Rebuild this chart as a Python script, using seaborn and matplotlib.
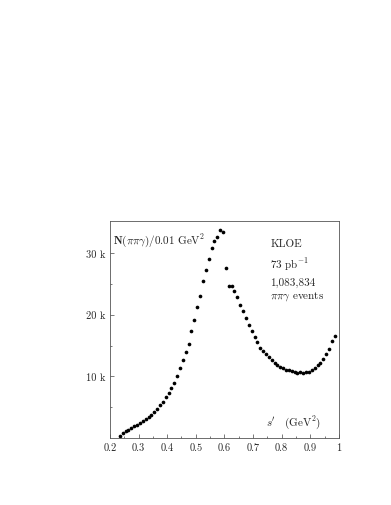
import numpy as np
import pandas as pd
import matplotlib
matplotlib.use('Agg')
import matplotlib.pyplot as plt
import seaborn as sns

# bin centres s' (GeV^2) and counts per 0.01 GeV^2 (in thousands)
s_prime = [0.235, 0.245, 0.255, 0.265, 0.275, 0.285, 0.295, 0.305, 0.315, 0.325,
           0.335, 0.345, 0.355, 0.365, 0.375, 0.385, 0.395, 0.405, 0.415, 0.425,
           0.435, 0.445, 0.455, 0.465, 0.475, 0.485, 0.495, 0.505, 0.515, 0.525,
           0.535, 0.545, 0.555, 0.565, 0.575, 0.585, 0.595, 0.605, 0.615, 0.625,
           0.635, 0.645, 0.655, 0.665, 0.675, 0.685, 0.695, 0.705, 0.715, 0.725,
           0.735, 0.745, 0.755, 0.765, 0.775, 0.785, 0.795, 0.805, 0.815, 0.825,
           0.835, 0.845, 0.855, 0.865, 0.875, 0.885, 0.895, 0.905, 0.915, 0.925,
           0.935, 0.945, 0.955, 0.965, 0.975, 0.985]
counts_k = [0.38, 0.75, 1.08, 1.34, 1.61, 1.88, 2.15, 2.42, 2.69, 3.06,
            3.39, 3.76, 4.14, 4.73, 5.38, 5.91, 6.61, 7.26, 8.06, 8.98,
            10.1, 11.3, 12.7, 14.0, 15.3, 17.3, 19.2, 21.2, 23.1, 25.5,
            27.2, 29.0, 30.8, 32.0, 32.6, 33.8, 33.5, 27.5, 24.6, 24.7,
            23.8, 22.8, 21.5, 20.6, 19.4, 18.3, 17.4, 16.4, 15.5, 14.6,
            14.1, 13.6, 13.2, 12.6, 12.1, 11.8, 11.6, 11.3, 11.1, 11.0,
            10.9, 10.75, 10.6, 10.65, 10.6, 10.7, 10.7, 11.0, 11.3, 11.8,
            12.2, 12.8, 13.7, 14.5, 15.7, 16.5]

x_ticks = [0.2, 0.3, 0.4, 0.5, 0.6, 0.7, 0.8, 0.9, 1.0]
x_tick_labels = ['0.2', '0.3', '0.4', '0.5', '0.6', '0.7', '0.8', '0.9', '1']
y_ticks = [10, 20, 30]
y_tick_labels = ['10 k', '20 k', '30 k']

df = pd.DataFrame({'s': s_prime, 'n': counts_k})

sns.set_style('ticks')
plt.rcParams['font.family'] = ['cmr10', 'DejaVu Serif']
plt.rcParams['mathtext.fontset'] = 'cm'
plt.rcParams['axes.formatter.use_mathtext'] = True

fig = plt.figure(figsize=(3.91, 5.06), dpi=100)
ax = fig.add_axes([0.281, 0.1324, 0.586, 0.4288])

sns.scatterplot(data=df, x='s', y='n', ax=ax, color='black', s=7,
                edgecolor='black', linewidth=0, legend=False)

ax.set_xlim(0.2, 1.0)
ax.set_ylim(0, 35.2)
ax.set_xticks(x_ticks)
ax.set_xticklabels(x_tick_labels)
ax.set_yticks(y_ticks)
ax.set_yticklabels(y_tick_labels)
ax.set_yticks([5, 15, 25], minor=True)
ax.set_xticks(np.arange(0.25, 1.0, 0.1), minor=True)
ax.tick_params(axis='both', which='both', direction='in', labelsize=7.5,
               color='#444444', width=0.5)
ax.tick_params(which='major', length=3)
ax.tick_params(which='minor', length=1.5)
ax.set_xlabel('')
ax.set_ylabel('')
for sp in ax.spines.values():
    sp.set_visible(True)
    sp.set_color('#555555')
    sp.set_linewidth(0.6)

fs = 8
ax.text(0.015, 0.955, r'$\mathbf{N}(\pi\pi\gamma)/0.01\ \mathrm{GeV}^2$',
        transform=ax.transAxes, fontsize=fs, va='top', ha='left')
ax.text(0.70, 0.92, 'KLOE', transform=ax.transAxes, fontsize=fs, va='top')
ax.text(0.70, 0.84, r'$73\ \mathrm{pb}^{-1}$', transform=ax.transAxes,
        fontsize=fs, va='top')
ax.text(0.70, 0.745, '1,083,834', transform=ax.transAxes, fontsize=fs, va='top')
ax.text(0.70, 0.685, r'$\pi\pi\gamma$ events', transform=ax.transAxes,
        fontsize=fs, va='top')
ax.text(0.68, 0.035, r"$s'\ \ \ (\mathrm{GeV}^2)$", transform=ax.transAxes,
        fontsize=fs, va='bottom')

plt.savefig('out.png', dpi=100)
plt.close()
